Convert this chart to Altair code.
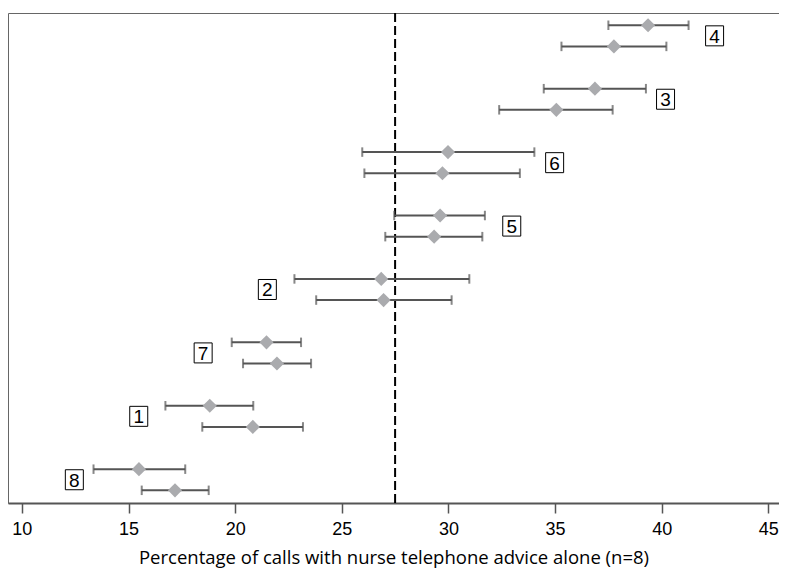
import altair as alt
import pandas as pd

# Facilities, top to bottom, each with two estimates (a = upper row, b = lower row)
facilities = ["4", "3", "6", "5", "2", "7", "1", "8"]
est_a = [39.36, 36.87, 29.98, 29.61, 26.85, 21.47, 18.81, 15.49]
lo_a = [37.50, 34.47, 25.96, 27.46, 22.78, 19.84, 16.73, 13.36]
hi_a = [41.26, 39.26, 34.03, 31.71, 30.98, 23.09, 20.85, 17.66]
est_b = [37.76, 35.06, 29.72, 29.33, 26.96, 21.96, 20.83, 17.18]
lo_b = [35.30, 32.38, 26.06, 27.04, 23.80, 20.37, 18.46, 15.62]
hi_b = [40.22, 37.70, 33.35, 31.59, 30.15, 23.56, 23.18, 18.76]
label_x = [42.48, 40.18, 34.98, 32.97, 21.51, 18.50, 15.48, 12.46]
reference = 27.5
x_ticks = [10, 15, 20, 25, 30, 35, 40, 45]

rows = []
labels = []
for i, f in enumerate(facilities):
    rows.append(dict(fac=f, row=3 * i, est=est_a[i], lo=lo_a[i], hi=hi_a[i]))
    rows.append(dict(fac=f, row=3 * i + 1, est=est_b[i], lo=lo_b[i], hi=hi_b[i]))
    labels.append(dict(fac=f, row=3 * i + 0.5, lx=label_x[i]))
df = pd.DataFrame(rows)
lab = pd.DataFrame(labels)
ref = pd.DataFrame({"ref": [reference]})

xs = alt.Scale(domain=[9.35, 45.5], nice=False, zero=False)
ys = alt.Scale(domain=[-0.58, 22.6], nice=False, zero=False, reverse=True)

xax = alt.Axis(values=x_ticks, grid=False, tickSize=10, tickWidth=1.5,
               tickColor="#555555", domainColor="#555555", domainWidth=2,
               labelFont="Liberation Sans", labelFontSize=18, labelColor="black",
               labelPadding=7, title="Percentage of calls with nurse telephone advice alone (n=8)",
               titleFont="Open Sans", titleFontSize=18.5, titleFontWeight="normal",
               titleColor="black", titlePadding=10)

base = alt.Chart(df)

bars = base.mark_rule(color="#555555", strokeWidth=2).encode(
    x=alt.X("lo:Q", scale=xs, axis=xax),
    x2="hi:Q",
    y=alt.Y("row:Q", scale=ys, axis=None),
)
cap_shape = "M0,-1L0,1"
cap_lo = base.mark_point(shape=cap_shape, size=90, color="#555555", strokeWidth=2, filled=False).encode(
    x=alt.X("lo:Q", scale=xs), y=alt.Y("row:Q", scale=ys))
cap_hi = base.mark_point(shape=cap_shape, size=90, color="#555555", strokeWidth=2, filled=False).encode(
    x=alt.X("hi:Q", scale=xs), y=alt.Y("row:Q", scale=ys))
pts = base.mark_point(shape="diamond", size=200, filled=True, color="#aaabae", opacity=1).encode(
    x=alt.X("est:Q", scale=xs), y=alt.Y("row:Q", scale=ys))

refline = alt.Chart(ref).mark_rule(color="black", strokeWidth=2, strokeDash=[9, 4]).encode(
    x=alt.X("ref:Q", scale=xs))

boxes = alt.Chart(lab).mark_point(shape="M-0.9,-1H0.9V1H-0.9Z", size=400, filled=True,
                                  fill="white", stroke="black", strokeWidth=1, opacity=1).encode(
    x=alt.X("lx:Q", scale=xs), y=alt.Y("row:Q", scale=ys))
texts = alt.Chart(lab).mark_text(font="Liberation Sans", fontSize=19, color="black",
                                 baseline="middle", dy=1).encode(
    x=alt.X("lx:Q", scale=xs), y=alt.Y("row:Q", scale=ys), text="fac:N")

chart = alt.layer(refline, bars, cap_lo, cap_hi, pts, boxes, texts).properties(
    width=771, height=562,
    autosize=alt.AutoSizeParams(type="fit", contains="padding"),
    padding={"left": 0, "top": 4, "right": 0, "bottom": 3},
).configure_view(stroke="#666666", strokeWidth=1)

chart.save("out.html", embed_options={"renderer": "svg", "actions": False})
